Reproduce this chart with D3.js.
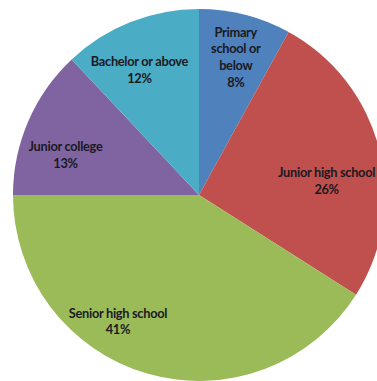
<!DOCTYPE html>
<html>
<head>
<meta charset="utf-8">
<script src="https://cdn.jsdelivr.net/npm/d3@7"></script>
<style>
  html, body { margin: 0; padding: 0; background: #fff; overflow: hidden; }
</style>
</head>
<body>
<div id="chart"></div>
<script>
// Education level shares (%), clockwise from 12 o'clock
const categories = ["Primary school or below", "Junior high school", "Senior high school", "Junior college", "Bachelor or above"];
const shares     = [8, 26, 41, 13, 12];
// How each label is broken into lines (as in the original)
const labelLines = [["Primary", "school or", "below"], ["Junior high school"], ["Senior high school"], ["Junior college"], ["Bachelor or above"]];
const colors     = ["#4f81bd", "#c0504d", "#9bbb59", "#8064a2", "#4bacc6"];

const W = 377, H = 381;
const cx = 199, cy = 195, R = 186;

const svg = d3.select("#chart").append("svg")
  .attr("width", W).attr("height", H)
  .style("font-family", "Lato, 'Open Sans', sans-serif");

const g = svg.append("g").attr("transform", `translate(${cx},${cy})`);

const pie = d3.pie().sort(null).value(d => d.value);
const arcs = pie(categories.map((c, i) => ({ name: c, value: shares[i], i })));

const arc = d3.arc().innerRadius(0).outerRadius(R);

g.selectAll("path.slice")
  .data(arcs)
  .join("path")
  .attr("class", "slice")
  .attr("d", arc)
  .attr("fill", d => colors[d.data.i]);

// Excel "best fit" label placement: centroid on a label ring, nudged per slice
const labelArc = d3.arc().innerRadius(140).outerRadius(140);
const nudge = { 0: [2, -2], 1: [-8, 21], 2: [-42, -8], 3: [-5, 16], 4: [-8, 5] };

const lh = 16.8;
arcs.forEach(d => {
  const [px, py] = labelArc.centroid(d);
  const [nx, ny] = nudge[d.data.i];
  const lines = labelLines[d.data.i].concat([`${d.data.value}%`]);
  const t = g.append("text")
    .attr("text-anchor", "middle")
    .attr("font-size", 12.8)
    .attr("font-weight", "bold")
    .attr("fill", "#1a1a22")
    .attr("letter-spacing", "-0.3");
  const y0 = py + ny - (lines.length - 1) * lh / 2;
  lines.forEach((s, k) => {
    t.append("tspan")
      .attr("x", px + nx)
      .attr("y", y0 + k * lh)
      .attr("dy", "0.35em")
      .text(s);
  });
});
</script>
</body>
</html>
